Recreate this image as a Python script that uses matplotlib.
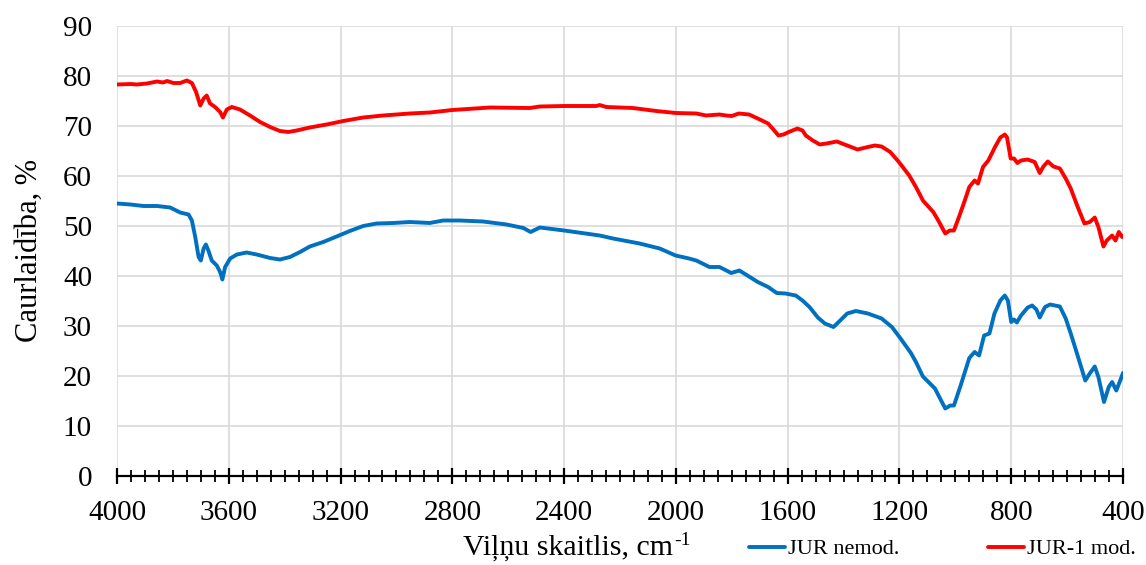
import matplotlib
matplotlib.use("Agg")
import matplotlib.pyplot as plt
from matplotlib.ticker import MultipleLocator

plt.rcParams["font.family"] = ["Liberation Serif", "DejaVu Serif"]

# FTIR spectra: wavenumber (cm-1) and transmittance (%)
wn_nemod = [4000, 3952, 3905, 3857, 3810, 3774, 3744, 3732, 3720, 3708, 3700, 3690,
            3682, 3673, 3661, 3643, 3631, 3623, 3613, 3595, 3571, 3536, 3500, 3452,
            3417, 3381, 3345, 3310, 3262, 3214, 3167, 3119, 3071, 3012, 2952, 2881,
            2833, 2774, 2690, 2606, 2546, 2520, 2487, 2400, 2273, 2225, 2130, 2058,
            2001, 1953, 1927, 1880, 1844, 1802, 1773, 1744, 1707, 1670, 1639, 1608,
            1571, 1547, 1522, 1492, 1467, 1436, 1412, 1387, 1356, 1313, 1264, 1227,
            1196, 1159, 1141, 1116, 1073, 1036, 1018, 1005, 981, 950, 931, 915, 897,
            878, 860, 839, 823, 812, 800, 790, 780, 765, 741, 725, 710, 698, 679, 661,
            626, 605, 587, 568, 535, 519, 501, 488, 468, 451, 439, 424, 412, 400]
t_nemod = [54.5, 54.3, 54.0, 54.0, 53.7, 52.7, 52.3, 51.1, 47.8, 43.8, 43.1, 45.5,
           46.3, 45.1, 43.1, 42.1, 40.8, 39.3, 41.8, 43.5, 44.3, 44.7, 44.3, 43.6,
           43.3, 43.8, 44.8, 45.9, 46.8, 47.9, 49.0, 50.0, 50.5, 50.6, 50.8, 50.6,
           51.1, 51.1, 50.9, 50.3, 49.6, 48.8, 49.7, 49.1, 48.1, 47.5, 46.5, 45.5,
           44.1, 43.5, 43.1, 41.8, 41.8, 40.6, 41.1, 40.1, 38.8, 37.8, 36.6, 36.5,
           36.1, 35.1, 33.8, 31.7, 30.5, 29.8, 31.1, 32.5, 33.0, 32.5, 31.5, 29.8,
           27.5, 24.6, 22.8, 19.9, 17.5, 13.5, 14.1, 14.1, 18.1, 23.6, 24.8, 24.1, 28.1,
           28.5, 32.5, 35.1, 36.1, 35.1, 30.8, 31.3, 30.7, 32.1, 33.7, 34.1, 33.3, 31.7,
           33.8, 34.3, 33.9, 31.5, 28.5, 25.1, 19.1, 20.5, 21.9, 19.8, 14.8, 17.8, 18.8,
           17.1, 18.8, 20.6]

wn_mod = [4000, 3950, 3929, 3893, 3857, 3835, 3821, 3798, 3774, 3750, 3732, 3717,
          3702, 3690, 3679, 3667, 3649, 3631, 3621, 3607, 3589, 3560, 3524, 3488,
          3452, 3417, 3387, 3357, 3310, 3250, 3190, 3119, 3048, 2952, 2880, 2800,
          2665, 2523, 2487, 2400, 2285, 2273, 2249, 2154, 2070, 2000, 1927, 1892,
          1844, 1820, 1800, 1775, 1738, 1707, 1670, 1651, 1633, 1615, 1596, 1565,
          1547, 1535, 1510, 1485, 1461, 1424, 1387, 1350, 1313, 1288, 1264, 1233,
          1202, 1165, 1141, 1116, 1079, 1061, 1036, 1020, 1005, 987, 968, 950, 931,
          919, 901, 882, 858, 839, 823, 815, 802, 790, 778, 765, 741, 716, 698, 685,
          669, 649, 626, 605, 587, 562, 538, 519, 501, 488, 470, 458, 439, 427, 415,
          403, 400]
t_mod = [78.3, 78.4, 78.3, 78.5, 78.9, 78.7, 79.0, 78.6, 78.6, 79.1, 78.6, 76.8,
         74.1, 75.5, 76.1, 74.5, 73.8, 72.8, 71.7, 73.3, 73.8, 73.3, 72.1, 70.8,
         69.8, 69.0, 68.8, 69.1, 69.7, 70.3, 71.0, 71.7, 72.1, 72.5, 72.7, 73.2,
         73.7, 73.6, 73.9, 74.0, 74.0, 74.2, 73.8, 73.6, 73.0, 72.6, 72.5, 72.1,
         72.3, 72.1, 72.0, 72.5, 72.3, 71.5, 70.5, 69.3, 68.1, 68.3, 68.8, 69.5,
         69.1, 68.1, 67.1, 66.3, 66.5, 66.9, 66.1, 65.3, 65.8, 66.1, 65.9, 64.8,
         62.8, 60.1, 57.8, 55.1, 52.8, 51.1, 48.5, 49.1, 49.1, 51.8, 54.8, 57.8, 59.1,
         58.5, 61.8, 63.1, 65.8, 67.7, 68.3, 67.7, 63.5, 63.5, 62.6, 63.1, 63.3, 62.8,
         60.6, 61.9, 62.9, 61.9, 61.5, 59.5, 57.5, 53.8, 50.5, 50.8, 51.7, 49.8, 45.9,
         47.1, 48.1, 47.1, 48.8, 47.8, 48.0]

labels = ["JUR nemod.", "JUR-1 mod."]
colors = ["#0070C0", "#FF0000"]

W, H = 1146, 565
fig = plt.figure(figsize=(W / 100, H / 100), dpi=100)
ax = fig.add_axes([117 / W, 1 - 476 / H, (1123 - 117) / W, (476 - 26) / H])

ax.plot(wn_nemod, t_nemod, color=colors[0], lw=2.8, label=labels[0],
        solid_joinstyle="round", solid_capstyle="round")
ax.plot(wn_mod, t_mod, color=colors[1], lw=2.8, label=labels[1],
        solid_joinstyle="round", solid_capstyle="round")

ax.set_xlim(4000, 400)
ax.set_ylim(0, 90)
ax.xaxis.set_major_locator(MultipleLocator(400))
ax.xaxis.set_minor_locator(MultipleLocator(50))
ax.yaxis.set_major_locator(MultipleLocator(10))

ax.grid(True, which="major", color="#d9d9d9", lw=1.2)
ax.set_axisbelow(True)
for side in ["top", "left", "right"]:
    ax.spines[side].set_visible(False)
ax.spines["bottom"].set_linewidth(1.6)
ax.spines["bottom"].set_zorder(3)

ax.tick_params(axis="x", which="major", direction="inout", length=12, width=1.6,
               labelsize=21, pad=11)
ax.tick_params(axis="x", which="minor", direction="inout", length=8.5, width=1.3)
ax.tick_params(axis="y", which="major", length=0, labelsize=21, pad=18)

fig.text(29 / W, 1 - 251 / H, "Caurlaidība, %", rotation=90,
         ha="center", va="center", fontsize=22)

# x-axis title with a raised "-1" after the unit
xt = fig.text(463 / W, 1 - 555 / H, "Viļņu skaitlis, cm",
              ha="left", va="baseline", fontsize=21.5)
renderer = fig.canvas.get_renderer()
bb = xt.get_window_extent(renderer=renderer)
fig.text((bb.x1 + 1) / W, 1 - 545 / H, "-1", ha="left", va="baseline",
         fontsize=14)

fig.legend(loc="center right", bbox_to_anchor=(1136 / W, 1 - 549 / H),
           ncol=2, frameon=False, fontsize=16, handlelength=1.6,
           handletextpad=0.15, columnspacing=4.0, borderaxespad=0,
           borderpad=0)

fig.savefig("out.png", dpi=100)
